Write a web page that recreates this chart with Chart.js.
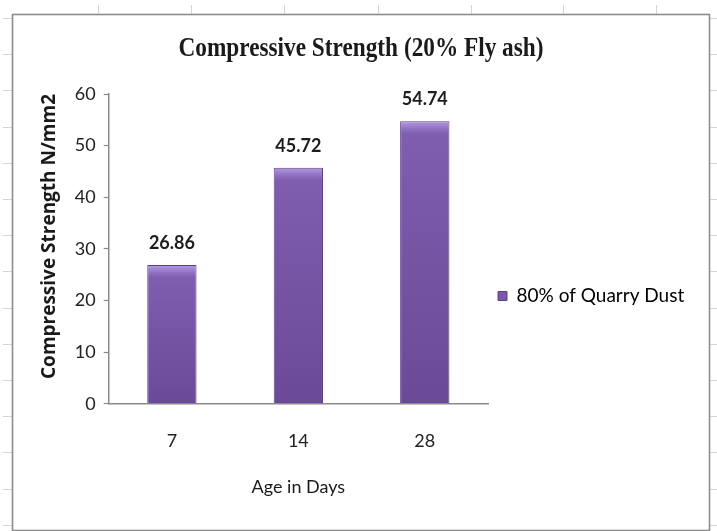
<!DOCTYPE html>
<html>
<head>
<meta charset="utf-8">
<title>Compressive Strength (20% Fly ash)</title>
<script src="https://cdn.jsdelivr.net/npm/chart.js@4/dist/chart.umd.min.js"></script>
<style>
  html, body { margin: 0; padding: 0; background: #ffffff; }
  #wrap { position: relative; width: 717px; height: 531px; }
</style>
</head>
<body>
<div id="wrap"><canvas id="chart" width="717" height="531"></canvas></div>
<script>
// Curing ages and measured strengths
const ageLabels = ['7', '14', '28'];
const strengthValues = [26.86, 45.72, 54.74];
const seriesName = '80% of Quarry Dust';
const chartTitle = 'Compressive Strength (20% Fly ash)';
const xTitle = 'Age in Days';
const yTitle = 'Compressive Strength N/mm2';
const yTicks = [0, 10, 20, 30, 40, 50, 60];

const uiFont = 'Lato, "Open Sans", sans-serif';

// Bevelled purple fill for each bar, built from the bar's own top and base pixels
function barFill(ctx) {
  const chart = ctx.chart;
  const area = chart.chartArea;
  if (!area || ctx.type !== 'data') return '#7b59a9';
  const y = chart.scales.y;
  const top = y.getPixelForValue(ctx.raw);
  const base = y.getPixelForValue(0);
  const g = chart.ctx.createLinearGradient(0, top, 0, base);
  const h = Math.max(base - top, 1);
  const s = Math.min(8 / h, 0.5);
  g.addColorStop(0, '#b39ae0');
  g.addColorStop(s, '#8e6fc2');
  g.addColorStop(Math.min(s * 1.6, 0.6), '#7f5daf');
  g.addColorStop(1, '#6a4a98');
  return g;
}

// Sheet frame, the faint cell grid marks around it, and the narrow serif heading
const framePlugin = {
  id: 'sheetFrame',
  afterLayout(chart) {
    // let the legend use the free space to its right so its label is not cut
    const lg = chart.legend;
    if (lg) {
      lg.right = 712;
      lg.width = lg.right - lg.left;
    }
  },
  beforeDraw(chart) {
    const c = chart.ctx;
    c.save();
    c.fillStyle = '#ffffff';
    c.fillRect(0, 0, chart.width, chart.height);
    c.strokeStyle = '#d4d4d4';
    c.lineWidth = 1;
    [98, 191, 284, 378, 471, 563, 656].forEach(x => {
      c.beginPath(); c.moveTo(x + 0.5, 5); c.lineTo(x + 0.5, 14); c.stroke();
    });
    for (let y = 18; y < chart.height; y += 36.2) {
      const yy = Math.round(y) + 0.5;
      c.beginPath(); c.moveTo(3, yy); c.lineTo(12, yy); c.stroke();
      c.beginPath(); c.moveTo(709, yy); c.lineTo(717, yy); c.stroke();
    }
    c.strokeStyle = '#8c8c8c';
    c.lineWidth = 1.6;
    c.strokeRect(12.5, 14.5, 697, 516);

    // heading, drawn narrow like a condensed serif face
    c.font = 'bold 27px "Liberation Serif", "Times New Roman", serif';
    c.fillStyle = '#1a1a1a';
    c.textAlign = 'center';
    c.textBaseline = 'middle';
    const w = c.measureText(chartTitle).width;
    c.translate(361, 49);
    c.scale(365 / w, 1);
    c.fillText(chartTitle, 0, 0);
    c.restore();
  }
};

// Value written above each bar
const valueLabels = {
  id: 'valueLabels',
  afterDatasetsDraw(chart) {
    const c = chart.ctx;
    const meta = chart.getDatasetMeta(0);
    c.save();
    c.font = 'bold 18px ' + uiFont;
    c.fillStyle = '#1e1e1e';
    c.textAlign = 'center';
    c.textBaseline = 'bottom';
    meta.data.forEach((bar, i) => {
      c.fillText(strengthValues[i].toFixed(2), bar.x, bar.y - 13);
    });
    c.restore();
  }
};

new Chart(document.getElementById('chart'), {
  type: 'bar',
  data: {
    labels: ageLabels,
    datasets: [{
      label: seriesName,
      data: strengthValues,
      backgroundColor: barFill,
      borderColor: '#5b3f87',
      borderWidth: 1,
      categoryPercentage: 1,
      barPercentage: 0.39
    }]
  },
  options: {
    responsive: false,
    animation: false,
    devicePixelRatio: 1,
    layout: { padding: { top: 94, left: 29, right: 76, bottom: 33 } },
    plugins: {
      title: { display: false },
      legend: {
        position: 'right',
        align: 'center',
        labels: {
          color: '#1a1a1a',
          font: { family: uiFont, size: 19 },
          boxWidth: 9,
          boxHeight: 9,
          padding: 10,
          generateLabels() {
            return [{
              text: seriesName,
              fillStyle: '#7b59a9',
              strokeStyle: '#5b3f87',
              lineWidth: 1,
              datasetIndex: 0
            }];
          }
        }
      },
      tooltip: { enabled: false }
    },
    scales: {
      x: {
        grid: { display: false, drawTicks: false },
        border: { display: true, color: '#8a8a8a', width: 1.5 },
        ticks: { color: '#222', font: { family: uiFont, size: 18 }, padding: 27 },
        title: {
          display: true, text: xTitle, color: '#1a1a1a',
          font: { family: uiFont, size: 18 },
          padding: { top: -3, bottom: 0 }
        }
      },
      y: {
        min: 0, max: 60,
        afterBuildTicks(scale) { scale.ticks = yTicks.map(v => ({ value: v })); },
        grid: { display: true, drawOnChartArea: false, drawTicks: true, tickLength: 5, color: '#8a8a8a', tickWidth: 1.2 },
        border: { display: true, color: '#8a8a8a', width: 1.5 },
        ticks: { color: '#222', font: { family: uiFont, size: 18 }, padding: 8 },
        title: {
          display: true, text: yTitle, color: '#1a1a1a',
          align: 'end',
          font: { family: '"Open Sans", sans-serif', size: 19, weight: 'bold' },
          padding: { top: 9, bottom: 6 }
        }
      }
    }
  },
  plugins: [framePlugin, valueLabels]
});
</script>
</body>
</html>
